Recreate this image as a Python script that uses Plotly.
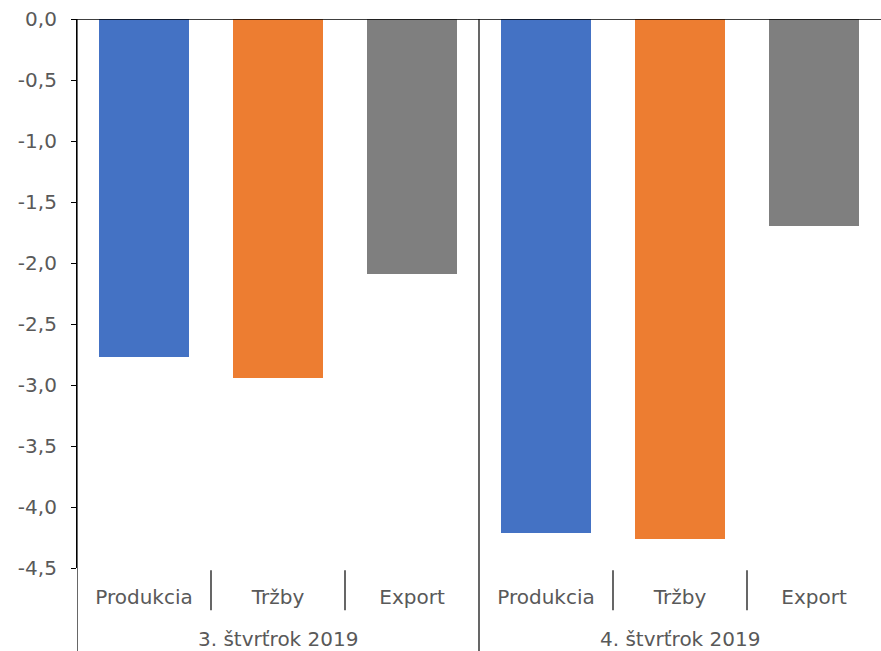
import plotly.graph_objects as go

# Quarterly changes (%)
quarters = ["3. štvrťrok 2019", "4. štvrťrok 2019"]
indicators = ["Produkcia", "Tržby", "Export"]
values_q3 = [-2.77, -2.94, -2.09]
values_q4 = [-4.21, -4.26, -1.70]
colors = ["#4472C4", "#ED7D31", "#7F7F7F"]

y_ticks = [0.0, -0.5, -1.0, -1.5, -2.0, -2.5, -3.0, -3.5, -4.0, -4.5]
y_ticktext = [f"{v:.1f}".replace(".", ",") for v in y_ticks]

xs = list(range(6))
ys = values_q3 + values_q4
bar_colors = colors + colors
labels = indicators + indicators

font_family = "DejaVu Sans"
text_color = "#595959"
font_size = 20

fig = go.Figure()
fig.add_trace(go.Bar(
    x=xs, y=ys, marker=dict(color=bar_colors, line=dict(width=0)),
    width=0.67, showlegend=False, hoverinfo="x+y",
))

shapes = []
# zero line across the top
shapes.append(dict(type="line", xref="paper", yref="y", x0=0, x1=1, y0=0, y1=0,
                   line=dict(color="black", width=1.5)))
# long dividers: axis line and the boundary between quarters
for xd in [-0.5, 2.5]:
    shapes.append(dict(type="line", xref="x", yref="paper", x0=xd, x1=xd, y0=1, y1=-0.16,
                       line=dict(color="black", width=1.2)))
# short dividers between the indicators
for xd in [0.5, 1.5, 3.5, 4.5]:
    shapes.append(dict(type="line", xref="x", yref="paper", x0=xd, x1=xd, y0=-0.004, y1=-0.077,
                       line=dict(color="black", width=1.2)))

annotations = []
for i, q in enumerate(quarters):
    annotations.append(dict(x=1 + 3 * i, y=-0.13, xref="x", yref="paper", text=q,
                            showarrow=False, yanchor="middle",
                            font=dict(family=font_family, size=font_size, color=text_color)))

fig.update_layout(
    width=881, height=651,
    margin=dict(l=77, r=0, t=19, b=83),
    paper_bgcolor="white", plot_bgcolor="white",
    bargap=0,
    shapes=shapes,
    annotations=annotations,
    xaxis=dict(
        range=[-0.5, 5.5], tickmode="array", tickvals=xs, ticktext=labels,
        showgrid=False, zeroline=False, showline=False,
        ticks="outside", ticklen=11, tickcolor="rgba(0,0,0,0)",
        tickfont=dict(family=font_family, size=font_size, color=text_color),
    ),
    yaxis=dict(
        range=[-4.5, 0], tickmode="array", tickvals=y_ticks, ticktext=y_ticktext,
        showgrid=False, zeroline=False, showline=True, linecolor="black", linewidth=1.2,
        ticks="outside", ticklen=5, tickcolor="black", tickwidth=1.2,
        tickfont=dict(family=font_family, size=font_size, color=text_color),
        ticklabelstandoff=10,
    ),
)

fig.write_html("out.html")
